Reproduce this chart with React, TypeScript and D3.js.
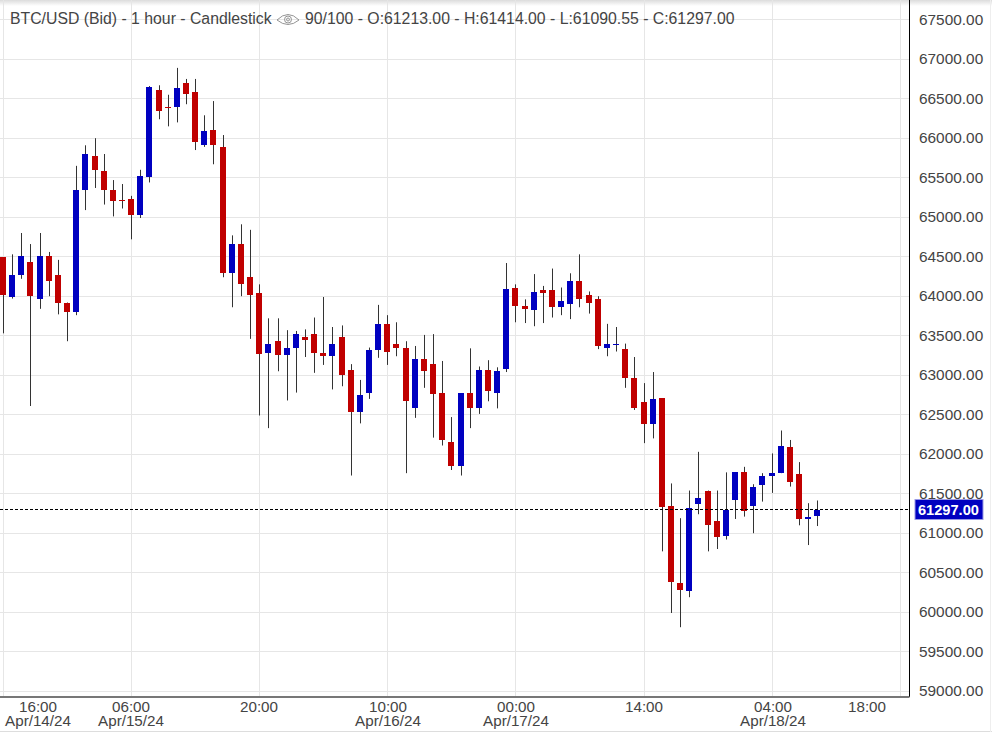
import React from 'react';
import * as d3 from 'd3';

const width = 992;
const height = 732;

const opens = [
  64490, 63990, 64270, 64430, 63960, 64510, 64270, 63920, 63800, 65340,
  65770, 65580, 65340, 65220, 65230, 65030, 65510, 66610, 66390, 66390,
  66700, 66580, 65920, 66100, 65890, 64300, 64660, 64240, 64040, 63280,
  63430, 63250, 63350, 63480, 63520, 63280, 63240, 63480, 63060, 62530,
  62780, 63320, 63650, 63400, 63340, 62590, 63200, 63140, 62780, 62160,
  61850, 62780, 62580, 63060, 62770, 63080, 64100, 63870, 63820, 64080,
  64080, 63860, 63900, 64190, 64010, 63960, 63350, 63390, 63330, 62970,
  62660, 62380, 62710, 61340, 60370, 60270, 61370, 61530, 61150, 60970,
  61420, 61770, 61350, 61610, 61720, 61760, 62090, 61750, 61180, 61213,
];
const closes = [
  64010, 64270, 64510, 64000, 64510, 64190, 63920, 63800, 65350, 65800,
  65600, 65340, 65200, 65200, 65030, 65520, 66650, 66350, 66380, 66630,
  66560, 65950, 66090, 65910, 64290, 64660, 64150, 64010, 63270, 63400,
  63250, 63350, 63520, 63440, 63280, 63240, 63400, 63000, 62540, 62750,
  63320, 63650, 63300, 63350, 62670, 63200, 63050, 62760, 62180, 61850,
  62770, 62580, 63060, 62800, 63050, 64090, 63870, 63840, 64050, 64040,
  63860, 63940, 64190, 63960, 63920, 63370, 63390, 63400, 62960, 62580,
  62380, 62700, 61330, 60380, 60280, 61320, 61440, 61110, 60950, 61290,
  61770, 61280, 61590, 61720, 61760, 62100, 61650, 61180, 61210, 61297,
];
const highs = [
  64490, 64530, 64800, 64660, 64800, 64560, 64460, 63920, 65650, 65910,
  66000, 65800, 65470, 65420, 65270, 65600, 66660, 66670, 66550, 66890,
  66750, 66750, 66290, 66470, 66040, 64770, 64910, 64840, 64150, 63720,
  63720, 63570, 63560, 63580, 63730, 63990, 63610, 63630, 63140, 62940,
  63350, 63890, 63760, 63670, 63430, 63370, 63510, 63520, 63180, 62470,
  62770, 63340, 63110, 63190, 63100, 64420, 64150, 63960, 64280, 64130,
  64350, 64110, 64290, 64530, 64060, 64000, 63650, 63610, 63400, 63230,
  62900, 63040, 62710, 61630, 61190, 61540, 62030, 61540, 61540, 61770,
  61770, 61840, 61620, 61760, 62010, 62300, 62180, 61900, 61380, 61414,
];
const lows = [
  63530, 63970, 64220, 62610, 63840, 64000, 63770, 63430, 63760, 65090,
  65370, 65160, 65010, 65110, 64720, 64990, 65440, 66240, 66150, 66200,
  66430, 65850, 65890, 65670, 64240, 63860, 64000, 63460, 62490, 62330,
  63050, 62680, 62780, 63230, 63030, 63130, 62820, 62860, 61730, 62390,
  62700, 63220, 63130, 63240, 61760, 62460, 62840, 62210, 62110, 61800,
  61730, 62330, 62510, 62670, 62580, 63040, 63670, 63660, 63620, 63660,
  63730, 63760, 63710, 63860, 63780, 63330, 63240, 63300, 62840, 62560,
  62140, 62200, 60770, 59990, 59810, 60190, 61240, 60770, 60800, 60920,
  61180, 61210, 61000, 61400, 61510, 61760, 61590, 61100, 60850, 61090.55,
];

const priceTicks = d3.range(59000, 68000, 500);
// hour index of each labelled vertical grid line, and where its text is centred
const timeTicks = [
  { index: 0, labelX: 38, time: '16:00', date: 'Apr/14/24' },
  { index: 14, labelX: 131, time: '06:00', date: 'Apr/15/24' },
  { index: 28, labelX: 259, time: '20:00', date: '' },
  { index: 42, labelX: 388, time: '10:00', date: 'Apr/16/24' },
  { index: 56, labelX: 516, time: '00:00', date: 'Apr/17/24' },
  { index: 70, labelX: 644, time: '14:00', date: '' },
  { index: 84, labelX: 773, time: '04:00', date: 'Apr/18/24' },
  { index: 98, labelX: 867, time: '18:00', date: '' },
];

const lastPrice = 61297;
const upColor = '#0000c0';
const downColor = '#c00000';
const gridColor = '#e6e6e6';
const textColor = '#444';
const font = '"Liberation Sans", Arial, sans-serif';

const px = (v: number) => Math.floor(v) + 0.5;

const App: React.FC = () => {
  const x = d3.scaleLinear().domain([0, 98]).range([3.5, 900.2]);
  const y = d3.scaleLinear().domain([59000, 67500]).range([691.2, 19.7]);
  const plotRight = 909.5;
  const plotBottom = 697;

  return (
    <svg
      width={width}
      height={height}
      style={{ position: 'absolute', left: 0, top: 0, background: '#fff' }}
      fontFamily={font}
    >
      <defs>
        <linearGradient id="topShade" x1="0" y1="0" x2="0" y2="1">
          <stop offset="0" stopColor="#dcdcdc" />
          <stop offset="1" stopColor="#fff" />
        </linearGradient>
      </defs>
      <rect x={0} y={0} width={width} height={6} fill="url(#topShade)" />

      {priceTicks.map(p => (
        <line key={p} x1={0} x2={plotRight} y1={px(y(p))} y2={px(y(p))} stroke={gridColor} />
      ))}
      {timeTicks.map(t => (
        <line key={t.index} x1={px(x(t.index))} x2={px(x(t.index))} y1={0} y2={plotBottom} stroke={gridColor} />
      ))}

      {opens.map((open, i) => {
        const close = closes[i];
        const top = Math.round(y(Math.max(open, close)));
        const bottom = Math.round(y(Math.min(open, close)));
        const cx = Math.floor(x(i));
        return (
          <g key={i}>
            <line x1={cx + 0.5} x2={cx + 0.5} y1={y(highs[i])} y2={y(lows[i])} stroke="#333" strokeWidth={1} />
            <rect
              x={cx - 3}
              y={top}
              width={6}
              height={Math.max(bottom - top, 1)}
              fill={close >= open ? upColor : downColor}
            />
          </g>
        );
      })}

      <line x1={0} x2={plotRight} y1={px(y(lastPrice))} y2={px(y(lastPrice))} stroke="#000" strokeDasharray="3 2" />

      <line x1={plotRight} x2={plotRight} y1={0} y2={plotBottom} stroke="#000" />
      <line x1={0} x2={plotRight} y1={plotBottom} y2={plotBottom} stroke="#777" strokeWidth={2} />
      <line x1={0} x2={width} y1={731.5} y2={731.5} stroke="#ddd" />
      <line x1={990.5} x2={990.5} y1={0} y2={height} stroke="#eee" />

      <text x={10} y={23.5} fontSize={15.8} fill={textColor}>
        BTC/USD (Bid) - 1 hour - Candlestick
      </text>
      <g transform="translate(277,20)" fill="none" stroke="#888" strokeWidth={0.9}>
        <path d="M0 0 Q11 -11 22 0 Q11 9 0 0 Z" />
        <circle cx={11} cy={-0.5} r={3.5} />
        <circle cx={11} cy={-0.5} r={1.5} />
      </g>
      <text x={305} y={23.5} fontSize={15.8} fill={textColor}>
        90/100 - O:61213.00 - H:61414.00 - L:61090.55 - C:61297.00
      </text>

      {priceTicks.map(p => (
        <text key={p} x={919} y={y(p) + 4.8} fontSize={15.4} fill={textColor}>
          {p.toFixed(2)}
        </text>
      ))}
      <rect x={915} y={499.5} width={68} height={20} fill={upColor} stroke="#9a9ae6" />
      <text x={918} y={y(lastPrice) + 5} fontSize={14.6} fontWeight="bold" fill="#fff">
        {lastPrice.toFixed(2)}
      </text>

      {timeTicks.map(t => (
        <text key={t.index} fontSize={15.2} fill={textColor} textAnchor="middle">
          <tspan x={t.labelX} y={712}>{t.time}</tspan>
          {t.date && <tspan x={t.labelX} y={726}>{t.date}</tspan>}
        </text>
      ))}
    </svg>
  );
};

export default App;
